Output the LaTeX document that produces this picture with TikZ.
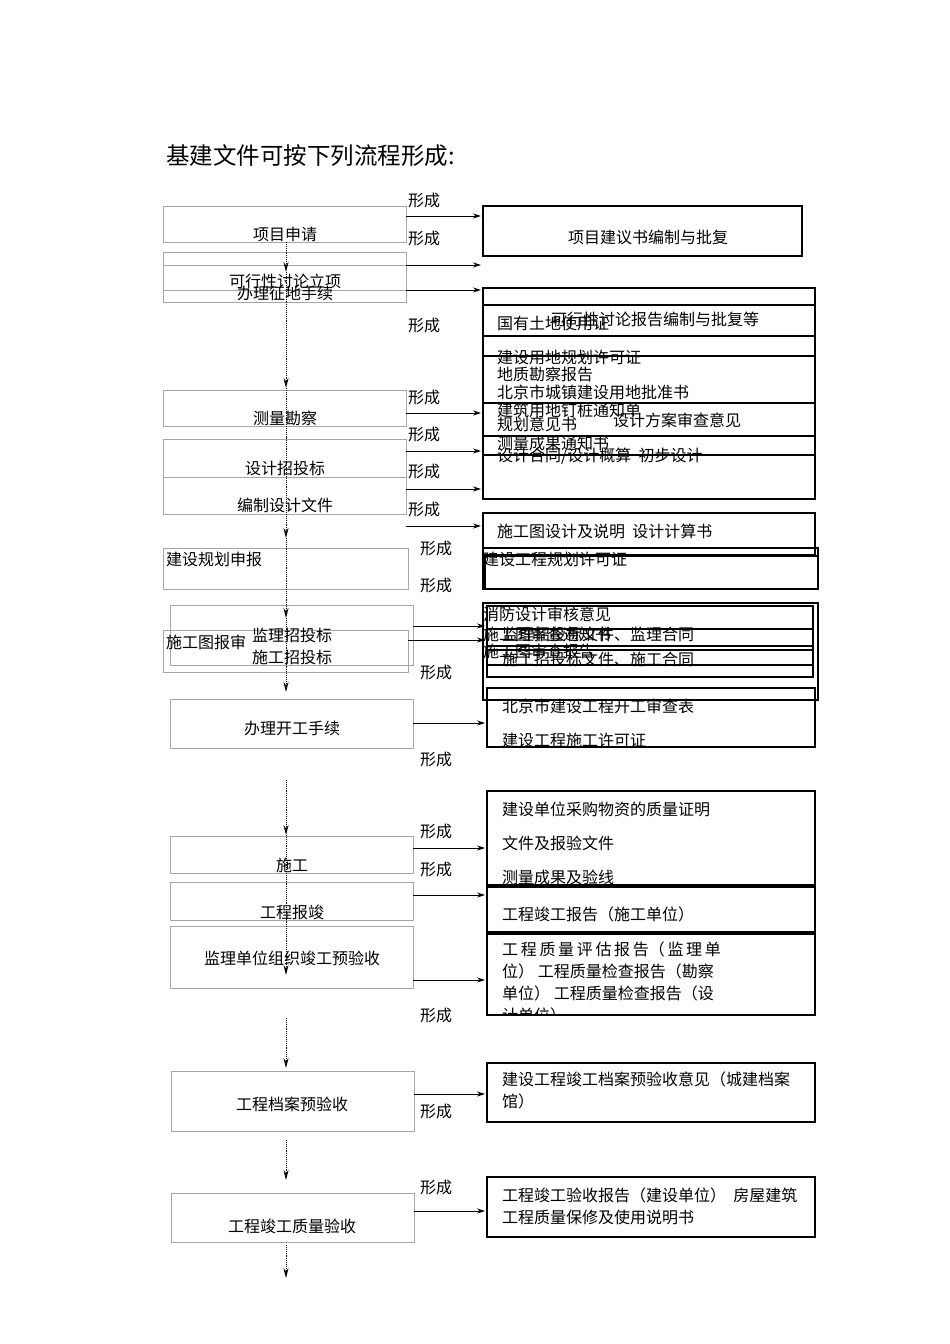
\documentclass[tikz,border=0pt]{standalone}
\usepackage{fontspec}
\setmainfont{Noto Sans CJK SC}
\usetikzlibrary{arrows.meta}
\begin{document}
\begin{tikzpicture}[x=1pt,y=-1pt,
  lbox/.style={draw=black!35,line width=0.7pt},
  rbox/.style={draw=black,line width=2.2pt},
  txt/.style={inner sep=0pt,font=\fontsize{16}{19}\selectfont},
  ltxt/.style={txt,anchor=west},
  harr/.style={-{Stealth[length=8pt,width=5pt]},line width=0.8pt},
  varr/.style={densely dotted,line width=0.9pt,-{Stealth[length=10pt,width=5pt]}}]
\useasboundingbox (0,0) rectangle (950,1344);
\fill[white] (0,0) rectangle (950,1344);
\node[txt,anchor=west,font=\fontsize{23.5}{26}\selectfont] (title) at (166,156) {基建文件可按下列流程形成:};
% left boxes
\draw[lbox] (163,206) rectangle (406,242);
\draw[lbox] (163,252) rectangle (406,290);
\draw[lbox] (163,265) rectangle (406,302);
\draw[lbox] (163,390) rectangle (406,426);
\draw[lbox] (163,439) rectangle (406,477);
\draw[lbox] (163,477) rectangle (406,514);
\draw[lbox] (163,548) rectangle (408,589);
\draw[lbox] (170,605) rectangle (413,665);
\draw[lbox] (163,630) rectangle (408,672);
\draw[lbox] (170,699) rectangle (413,748);
\draw[lbox] (170,836) rectangle (413,873);
\draw[lbox] (170,882) rectangle (413,920);
\draw[lbox] (170,926) rectangle (413,988);
\draw[lbox] (171,1071) rectangle (414,1131);
\draw[lbox] (171,1193) rectangle (414,1242);
\node[txt] (n1) at (285,234) {项目申请};
\node[txt] (n2) at (285,281) {可行性讨论立项};
\node[txt] (n3) at (285,293) {办理征地手续};
\node[txt] (n4) at (285,418) {测量勘察};
\node[txt] (n5) at (285,468) {设计招投标};
\node[txt] (n6) at (285,505) {编制设计文件};
\node[ltxt] (n7) at (166,559) {建设规划申报};
\node[txt] (n8) at (292,635) {监理招投标};
\node[ltxt] (n9) at (166,642) {施工图报审};
\node[txt] (n10) at (292,657) {施工招投标};
\node[txt] (n11) at (292,728) {办理开工手续};
\node[txt] (n12) at (292,865) {施工};
\node[txt] (n13) at (292,912) {工程报竣};
\node[txt] (n14) at (292,958) {监理单位组织竣工预验收};
\node[txt] (n15) at (292,1104) {工程档案预验收};
\node[txt] (n16) at (292,1226) {工程竣工质量验收};
% vertical flow
\coordinate (v0) at (286,242);
\coordinate (va) at (286,272);
\coordinate (vc) at (286,388);
\coordinate (ve) at (286,438);
\coordinate (vg) at (286,538); \coordinate (vh) at (286,570);
\coordinate (vi) at (286,618);
\coordinate (vk) at (286,692); \coordinate (vl) at (286,780);
\coordinate (vm) at (286,835);
\coordinate (vo) at (286,975); \coordinate (vp) at (286,1018);
\coordinate (vq) at (286,1068); \coordinate (vr) at (286,1140);
\coordinate (vs) at (286,1180); \coordinate (vt) at (286,1245);
\coordinate (vu) at (286,1278);
\draw[varr] (v0) -- (va);
\draw[varr] (va) -- (vc);
\draw[densely dotted,line width=0.9pt] (vc) -- (ve);
\draw[varr] (ve) -- (vg);
\draw[densely dotted,line width=0.9pt] (vg) -- (vh);
\draw[varr] (vh) -- (vi);
\draw[varr] (vi) -- (vk);
\draw[varr] (vl) -- (vm);
\draw[varr] (vm) -- (vo);
\draw[varr] (vp) -- (vq);
\draw[varr] (vr) -- (vs);
\draw[varr] (vt) -- (vu);
% right boxes
\draw[rbox] (483,206) rectangle (802,256);
\node[txt] (r1) at (648,237) {项目建议书编制与批复};
\draw[rbox] (483,288) rectangle (815,499);
\foreach \yy in {305,336,356,403,436,455} \draw[rbox] (483,\yy) -- (815,\yy);
\node[txt] (r2) at (655,319) {可行性讨论报告编制与批复等};
\node[ltxt] (r3) at (497,323) {国有土地使用证};
\node[ltxt] (r4) at (497,357) {建设用地规划许可证};
\node[ltxt] (r5) at (497,374) {地质勘察报告};
\node[ltxt] (r6) at (497,392) {北京市城镇建设用地批准书};
\node[ltxt] (r7) at (497,410) {建筑用地钉桩通知单};
\node[ltxt] (r8) at (497,424) {规划意见书};
\node[ltxt] (r9) at (613,420) {设计方案审查意见};
\node[ltxt] (r10) at (497,443) {测量成果通知书};
\node[ltxt] (r11) at (497,456) {设计合同/设计概算\ \ 初步设计};
\draw[rbox] (483,513) rectangle (815,555);
\node[ltxt] (r12) at (497,531) {施工图设计及说明\ \ 设计计算书};
\draw[rbox] (483,548) rectangle (818,589);
\draw[rbox] (485,556) rectangle (818,589);
\node[ltxt] (r13) at (483,559) {建设工程规划许可证};
\draw[rbox] (483,603) rectangle (818,700);
\draw[rbox] (487,606) rectangle (813,646);
\draw[rbox] (487,629) rectangle (813,665);
\draw[rbox] (487,650) rectangle (813,677);
\node[ltxt] (r14) at (483,614) {消防设计审核意见};
\node[ltxt] (r15) at (483,634) {施工图审查通知书};
\node[ltxt] (r16) at (502,634) {监理招投标文件、监理合同};
\node[ltxt] (r17) at (483,651) {施工图审查报告};
\node[ltxt] (r18) at (502,659) {施工招投标文件、施工合同};
\draw[rbox] (487,688) rectangle (815,747);
\node[ltxt] (r19) at (502,706) {北京市建设工程开工审查表};
\node[ltxt] (r20) at (502,740) {建设工程施工许可证};
\draw[rbox] (487,791) rectangle (815,885);
\node[ltxt] (r21) at (502,809) {建设单位采购物资的质量证明};
\node[ltxt] (r22) at (502,843) {文件及报验文件};
\node[ltxt] (r23) at (502,877) {测量成果及验线};
\draw[rbox] (487,887) rectangle (815,932);
\node[ltxt] (r24) at (502,914) {工程竣工报告（施工单位）};
\draw[rbox] (487,934) rectangle (815,1015);
\begin{scope}
\clip (487,934) rectangle (815,1013);
\node[ltxt] (r25) at (502,949) {工\,程\,质\,量\,评\,估\,报\,告（\,监\,理\,单};
\node[ltxt] (r26) at (502,971) {位） 工程质量检查报告（勘察};
\node[ltxt] (r27) at (502,993) {单位） 工程质量检查报告（设};
\node[ltxt] (r28) at (502,1015) {计单位）};
\end{scope}
\draw[rbox] (487,1063) rectangle (815,1122);
\node[ltxt] (r29) at (502,1079) {建设工程竣工档案预验收意见（城建档案};
\node[ltxt] (r30) at (502,1101) {馆）};
\draw[rbox] (487,1177) rectangle (815,1237);
\node[ltxt] (r31) at (502,1195) {工程竣工验收报告（建设单位）\ \ 房屋建筑};
\node[ltxt] (r32) at (502,1217) {工程质量保修及使用说明书};
% horizontal arrows
\foreach \ya/\xa/\xb in {216/406/481,265/406/481,290/406/481,413/406/481,451/406/481,489/406/481,526/406/481,626/413/485,640/408/485,723/413/485,848/413/485,895/413/485,980/413/485,1094/414/485,1211/414/485}{
  \coordinate (ha) at (\xa,\ya); \coordinate (hb) at (\xb,\ya);
  \draw[harr] (ha) -- (hb);}
% labels
\foreach \yy in {200,238,325,397,434,471,509} \node[txt] at (424,\yy) {形成};
\foreach \yy in {548,585,672,759,831,869,1015,1111,1187} \node[txt] at (436,\yy) {形成};
\end{tikzpicture}
\end{document}
